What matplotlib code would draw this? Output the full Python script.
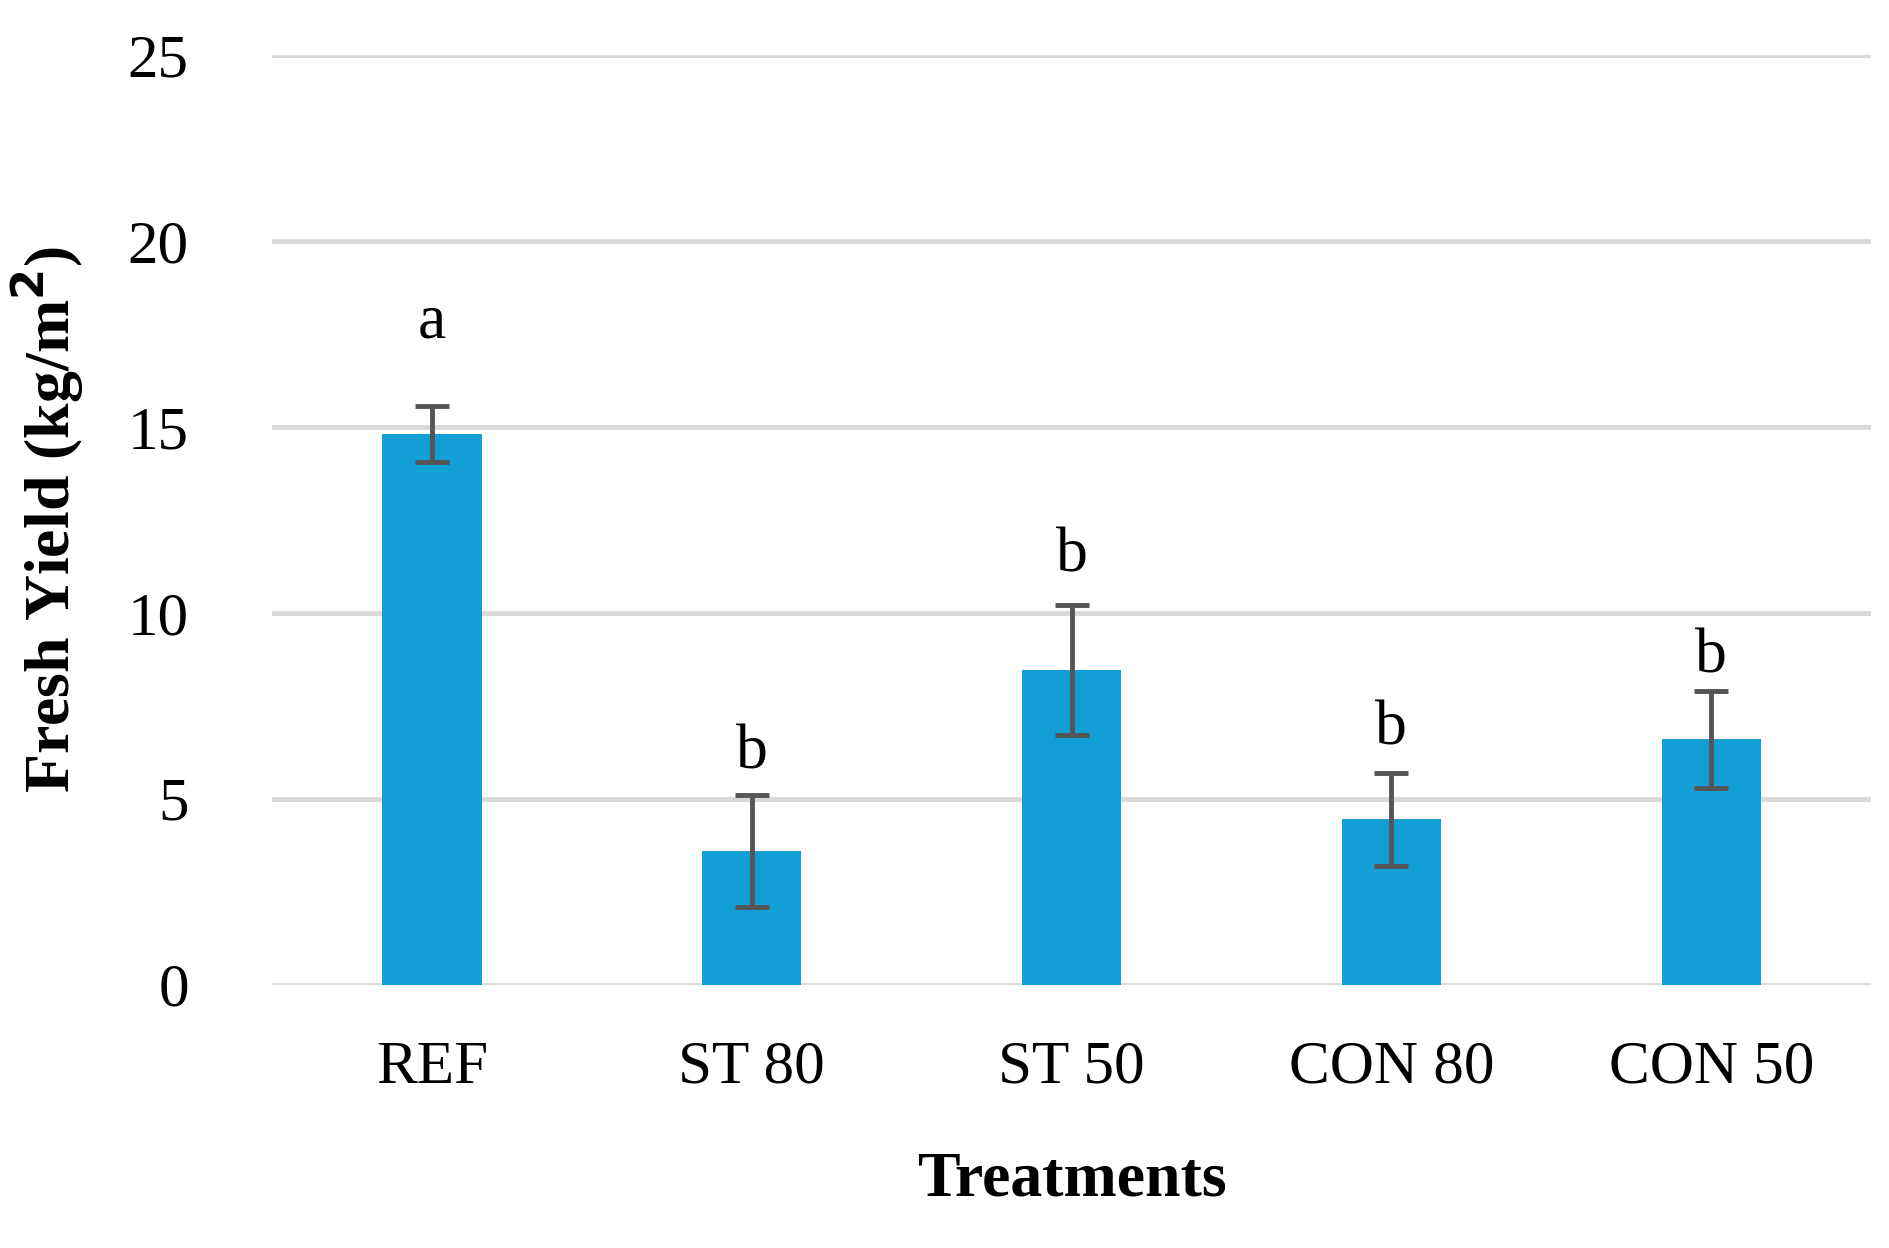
import matplotlib.pyplot as plt

categories = ["REF", "ST 80", "ST 50", "CON 80", "CON 50"]
values = [14.8, 3.6, 8.45, 4.45, 6.6]
errors = [0.75, 1.5, 1.75, 1.25, 1.3]
letters = ["a", "b", "b", "b", "b"]
letter_y = [17.4, 5.8, 11.1, 6.45, 8.4]

plt.rcParams['font.family'] = ['Liberation Serif', 'DejaVu Serif']
fig = plt.figure(figsize=(18.9, 12.48), dpi=100)
ax = fig.add_axes([0.144, 0.211, 0.846, 0.745])
x = range(len(categories))
ax.bar(x, values, width=0.31, color='#119FD6', zorder=3)
ax.errorbar(x, values, yerr=errors, fmt='none', ecolor='#555555', elinewidth=3.5,
            capsize=12, capthick=3.5, zorder=4)
for i, (yy, l) in enumerate(zip(letter_y, letters)):
    ax.text(i, yy, l, ha='center', va='baseline', fontsize=46)
ax.set_ylim(0, 25)
ax.set_xlim(-0.5, 4.5)
ax.set_yticks(range(0, 26, 5))
ax.yaxis.grid(True, color='#D9D9D9', linewidth=3.5, zorder=0)
for s in ax.spines.values():
    s.set_visible(False)
ax.tick_params(axis='both', length=0, labelsize=44)
ax.tick_params(axis='x', pad=40)
ax.tick_params(axis='y', pad=60)
ax.set_xticks(list(x))
ax.set_xticklabels(categories)
ax.set_xlabel("Treatments", fontsize=46, fontweight='bold', labelpad=40)
ax.set_ylabel("Fresh Yield (kg/m$^{\\mathbf{2}}$)", fontsize=46, fontweight='bold', labelpad=30)
fig.savefig("out.png", dpi=100)
